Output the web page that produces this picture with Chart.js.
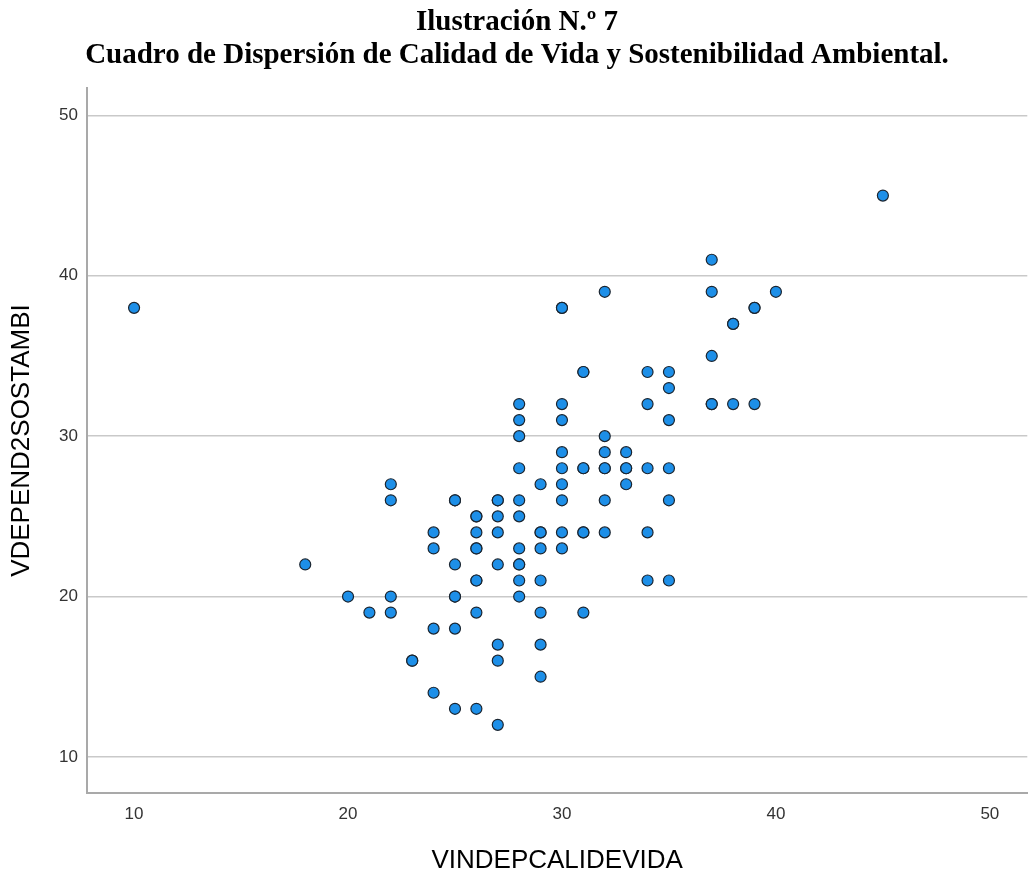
<!DOCTYPE html>
<html>
<head>
<meta charset="utf-8">
<script src="https://cdn.jsdelivr.net/npm/chart.js@4"></script>
<style>
  html, body { margin: 0; padding: 0; background: #ffffff; }
  #wrap { width: 1034px; height: 873px; }
</style>
</head>
<body>
<div id="wrap"><canvas id="c" width="1034" height="873"></canvas></div>
<script>
// ---- Data ----
const titleLines = ['Ilustración N.º 7', 'Cuadro de Dispersión de Calidad de Vida y Sostenibilidad Ambiental.'];
const xAxisTitle = 'VINDEPCALIDEVIDA';
const yAxisTitle = 'VDEPEND2SOSTAMBI';
const xTicks = [10, 20, 30, 40, 50];
const yTicks = [10, 20, 30, 40, 50];

// VINDEPCALIDEVIDA (x) and VDEPEND2SOSTAMBI (y), paired by index
const calidadVida = [
  10,
  18,
  20,
  21,
  22, 22, 22, 22,
  23, 23,
  24, 24, 24, 24,
  25, 25, 25, 25, 25, 25, 25,
  26, 26, 26, 26, 26, 26, 26, 26, 26,
  27, 27, 27, 27, 27, 27, 27, 27,
  28, 28, 28, 28, 28, 28, 28, 28, 28, 28, 28,
  29, 29, 29, 29, 29, 29, 29, 29,
  30, 30, 30, 30, 30, 30, 30, 30, 30, 30,
  31, 31, 31, 31, 31, 31, 31,
  32, 32, 32, 32, 32, 32, 32,
  33, 33, 33, 33,
  34, 34, 34, 34, 34,
  35, 35, 35, 35, 35, 35,
  37, 37, 37, 37, 37,
  38, 38, 38,
  39, 39, 39,
  40,
  45
];
const sostenibilidad = [
  38,
  22,
  20,
  19,
  27, 26, 20, 19,
  16, 16,
  24, 23, 18, 14,
  26, 26, 22, 20, 20, 18, 13,
  25, 25, 24, 23, 23, 21, 21, 19, 13,
  26, 26, 25, 24, 22, 17, 16, 12,
  32, 31, 30, 28, 26, 25, 23, 22, 22, 21, 20,
  27, 24, 24, 23, 21, 19, 17, 15,
  38, 38, 32, 31, 29, 28, 27, 26, 24, 23,
  34, 34, 28, 28, 24, 24, 19,
  39, 30, 29, 28, 28, 26, 24,
  29, 28, 28, 27,
  34, 32, 28, 24, 21,
  34, 33, 31, 28, 26, 21,
  41, 39, 35, 32, 32,
  37, 37, 32,
  38, 38, 32,
  39,
  45
];

const points = calidadVida.map((x, i) => ({ x: x, y: sostenibilidad[i] }));

const tickFont = { family: "'Liberation Sans', Arial, sans-serif", size: 17 };
const axisTitleFont = { family: "'Liberation Sans', Arial, sans-serif", size: 26, lineHeight: 1.2 };

new Chart(document.getElementById('c'), {
  type: 'scatter',
  data: {
    datasets: [{
      data: points,
      pointRadius: 5.5,
      pointHoverRadius: 5.5,
      pointBackgroundColor: '#1d8fe8',
      pointBorderColor: '#1b2530',
      pointBorderWidth: 1.2
    }]
  },
  options: {
    responsive: false,
    devicePixelRatio: 1,
    animation: false,
    layout: { padding: 0 },
    plugins: {
      legend: { display: false },
      tooltip: { enabled: false },
      title: {
        display: true,
        text: titleLines,
        color: '#000000',
        font: { family: "'Liberation Serif', 'Times New Roman', serif", size: 29, weight: 'bold', lineHeight: 1.14 },
        padding: { top: 6, bottom: 16 }
      }
    },
    scales: {
      x: {
        type: 'linear',
        min: 7.8,
        max: 51.75,
        afterBuildTicks: (s) => { s.ticks = xTicks.map(v => ({ value: v })); },
        afterFit: (s) => { s.height = 80; },
        grid: { display: false, drawTicks: false },
        border: { display: true, color: '#a9a9a9', width: 2 },
        ticks: { color: '#333333', font: tickFont, padding: 11, maxRotation: 0 },
        title: {
          display: true,
          text: xAxisTitle,
          color: '#000000',
          font: axisTitleFont,
          padding: { top: 0, bottom: -3 }
        }
      },
      y: {
        type: 'linear',
        min: 7.75,
        max: 51.7,
        afterBuildTicks: (s) => { s.ticks = yTicks.map(v => ({ value: v })); },
        afterFit: (s) => { s.width = 87; },
        grid: { display: true, drawTicks: false, color: '#c9c9c9', lineWidth: 1.5 },
        border: { display: true, color: '#a9a9a9', width: 2 },
        ticks: { color: '#333333', font: tickFont, padding: 9 },
        title: {
          display: true,
          text: yAxisTitle,
          color: '#000000',
          font: axisTitleFont,
          padding: { top: 6, bottom: 0 }
        }
      }
    }
  }
});
</script>
</body>
</html>
